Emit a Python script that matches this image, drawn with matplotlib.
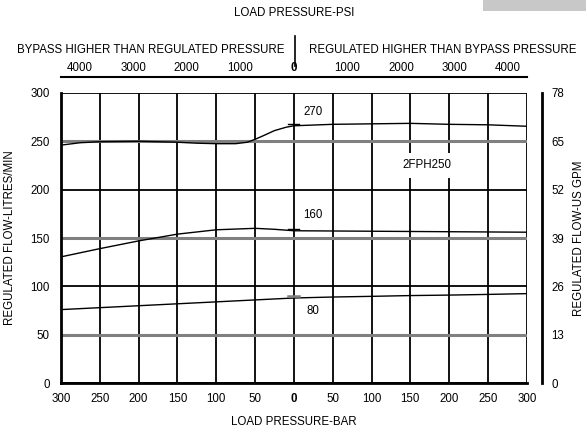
import matplotlib.pyplot as plt
from matplotlib.lines import Line2D
from matplotlib.patches import Rectangle

plt.rcParams['font.family'] = ['Liberation Sans', 'DejaVu Sans']
FS = 8.3

# load pressure in bar (negative = bypass side), flow in l/min
x_270 = [-300, -275, -250, -200, -150, -125, -100, -75, -60, -50, -40, -25, -10, 0, 50, 100, 150, 200, 250, 300]
y_270 = [246, 248.5, 249.5, 250, 249, 248, 247.5, 247.5, 249, 252, 255.5, 261, 264.5, 266, 267.5, 268, 268.5, 267.5, 267, 265.5]
x_160 = [-300, -250, -200, -150, -100, -50, -25, 0, 100, 200, 300]
y_160 = [130.5, 139, 147, 154, 158.5, 160, 159, 157.5, 157, 156.5, 156]
x_80 = [-300, -250, -200, -150, -100, -50, 0, 50, 100, 150, 200, 250, 300]
y_80 = [76, 78, 80, 82, 84, 86, 88, 89, 89.7, 90.5, 91, 91.7, 92.5]

bar_ticks = [-300, -250, -200, -150, -100, -50, 0, 50, 100, 150, 200, 250, 300]
psi_ticks = [-4000, -3000, -2000, -1000, 0, 1000, 2000, 3000, 4000]
lpm_ticks = [0, 50, 100, 150, 200, 250, 300]
gpm_ticks = [0, 13, 26, 39, 52, 65, 78]

fig = plt.figure(figsize=(5.86, 4.30), dpi=100)
ax = fig.add_axes([0.104, 0.109, 0.795, 0.675])
ax.set_xlim(-300, 300)
ax.set_ylim(0, 300)

# grid
for v in bar_ticks:
    ax.axvline(v, color='black', lw=1.3, zorder=1)
for h in lpm_ticks:
    if h in (50, 150, 250):
        ax.axhline(h, color='#808080', lw=2.2, zorder=1)
    else:
        ax.axhline(h, color='black', lw=1.3, zorder=1)

# curves
ax.plot(x_270, y_270, color='black', lw=1.0, zorder=3)
ax.plot(x_160, y_160, color='black', lw=1.0, zorder=3)
ax.plot(x_80, y_80, color='black', lw=1.0, zorder=3)

# small markers at 0
ax.plot([-8, 6], [268, 268], color='black', lw=1.0, zorder=3)
ax.plot([-8, 6], [159, 159], color='black', lw=1.0, zorder=3)
ax.plot([-8, 6], [90, 90], color='#808080', lw=1.8, zorder=3)

ax.text(25, 280, '270', fontsize=FS, ha='center', va='center')
ax.text(25, 174, '160', fontsize=FS, ha='center', va='center')
ax.text(24, 75, '80', fontsize=FS, ha='center', va='center')
ax.text(172, 225, '2FPH250', fontsize=FS, ha='center', va='center', zorder=4,
        bbox=dict(facecolor='white', edgecolor='none', pad=5))

for s in ['left', 'bottom']:
    ax.spines[s].set_linewidth(2)
for s in ['top', 'right']:
    ax.spines[s].set_visible(False)

ax.set_xticks(bar_ticks)
ax.set_xticklabels([str(abs(v)) for v in bar_ticks])
ax.set_yticks(lpm_ticks)
ax.tick_params(axis='both', length=0, labelsize=FS)
ax.tick_params(axis='x', pad=7)
ax.tick_params(axis='y', pad=8)
for lbl in ax.get_xticklabels():
    if lbl.get_text() == '0':
        lbl.set_fontweight('bold')
ax.set_xlabel('LOAD PRESSURE-BAR', fontsize=FS, labelpad=8)

# right GPM axis
ax2 = ax.twinx()
ax2.set_ylim(0, 78)
ax2.set_yticks(gpm_ticks)
for s in ['left', 'top', 'bottom']:
    ax2.spines[s].set_visible(False)
ax2.spines['right'].set_position(('outward', 11))
ax2.spines['right'].set_linewidth(2)
ax2.tick_params(axis='y', length=0, labelsize=FS, pad=6.5)

# top PSI axis
ax3 = ax.twiny()
ax3.set_xlim(-300, 300)
ax3.set_xticks([p / 14.5038 for p in psi_ticks])
ax3.set_xticklabels([str(abs(p)) for p in psi_ticks])
for s in ['left', 'right', 'bottom']:
    ax3.spines[s].set_visible(False)
ax3.spines['top'].set_position(('outward', 11.5))
ax3.spines['top'].set_linewidth(1.5)
ax3.tick_params(axis='x', length=0, labelsize=FS, pad=2)
for lbl in ax3.get_xticklabels():
    if lbl.get_text() == '0':
        lbl.set_fontweight('bold')

fig.text(10 / 586, 0.447, 'REGULATED FLOW-LITRES/MIN', fontsize=FS, rotation=90, ha='center', va='center')
fig.text(579 / 586, 0.447, 'REGULATED FLOW-US GPM', fontsize=FS, rotation=90, ha='center', va='center')
fig.text(0.502, 0.970, 'LOAD PRESSURE-PSI', fontsize=FS, ha='center', va='center')
fig.text(0.486, 0.884, 'BYPASS HIGHER THAN REGULATED PRESSURE', fontsize=FS, ha='right', va='center')
fig.text(0.527, 0.884, 'REGULATED HIGHER THAN BYPASS PRESSURE', fontsize=FS, ha='left', va='center')
fig.add_artist(Line2D([0.503, 0.503], [0.847, 0.916], color='black', lw=1.2))
fig.add_artist(Rectangle((0.824, 0.974), 0.176, 0.026, facecolor='#c8c8c8', edgecolor='none'))

fig.savefig('out.png', dpi=100)
